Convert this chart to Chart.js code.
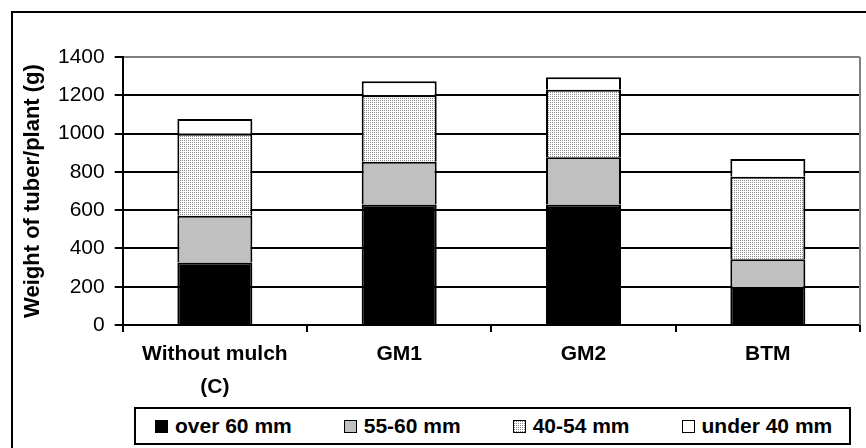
<!DOCTYPE html>
<html>
<head>
<meta charset="utf-8">
<script src="https://cdn.jsdelivr.net/npm/chart.js@4.4.1/dist/chart.umd.min.js"></script>
<style>
  html, body { margin: 0; padding: 0; background: #fff; }
  #wrap { position: relative; width: 866px; height: 448px; }
  #legend {
    position: absolute; left: 134px; top: 407px; width: 717px; height: 38px;
    box-sizing: border-box; border: 2px solid #000; background: #fff;
    display: flex; align-items: center; padding-left: 19px; gap: 52px;
    font: bold 21px "Liberation Sans", Arial, sans-serif; color: #000;
  }
  #legend .item { display: flex; align-items: center; white-space: nowrap; }
  #legend .sw { width: 11px; height: 11px; border: 1px solid #000; margin-right: 7px; }
</style>
</head>
<body>
<div id="wrap">
  <canvas id="chart" width="866" height="448"></canvas>
  <div id="legend"></div>
</div>
<script>
const categories  = [['Without mulch', '(C)'], 'GM1', 'GM2', 'BTM'];
const seriesNames = ['over 60 mm', '55-60 mm', '40-54 mm', 'under 40 mm'];
const over60      = [327, 630, 630, 199];
const mm55to60    = [244, 223, 246, 144];
const mm40to54    = [428, 347, 353, 432];
const under40     = [77, 73, 65, 92];
const yMax  = 1400;
const yStep = 200;

// light stipple fill like the old Excel pattern
function dotCanvas() {
  const c = document.createElement('canvas');
  c.width = 2; c.height = 2;
  const g = c.getContext('2d');
  g.fillStyle = '#fff';
  g.fillRect(0, 0, 2, 2);
  g.fillStyle = '#8a8a8a';
  g.fillRect(0, 0, 1, 1);
  return c;
}
const dots = dotCanvas();
const ctx = document.getElementById('chart');
const dotFill = ctx.getContext('2d').createPattern(dots, 'repeat');

const fills  = ['#000000', '#c0c0c0', dotFill, '#ffffff'];
const swatch = ['#000000', '#c0c0c0', `url(${dots.toDataURL()})`, '#ffffff'];
const values = [over60, mm55to60, mm40to54, under40];

const frame = {
  id: 'frame',
  beforeDraw(chart) {
    const c = chart.ctx;
    c.save();
    c.fillStyle = '#fff';
    c.fillRect(0, 0, chart.width, chart.height);
    c.restore();
  },
  afterDraw(chart) {
    const c = chart.ctx;
    const a = chart.chartArea;
    c.save();
    c.strokeStyle = '#808080';
    c.lineWidth = 2;
    c.beginPath();
    c.moveTo(a.right, a.top);
    c.lineTo(a.right, a.bottom);
    c.stroke();
    c.strokeStyle = '#000';
    c.lineWidth = 2;
    c.beginPath();
    c.moveTo(12, chart.height);
    c.lineTo(12, 12);
    c.lineTo(chart.width, 12);
    c.stroke();
    c.restore();
  }
};

const chart = new Chart(ctx, {
  type: 'bar',
  data: {
    labels: categories,
    datasets: seriesNames.map((name, i) => ({
      label: name,
      data: values[i],
      backgroundColor: fills[i],
      borderColor: '#000',
      borderWidth: 2,
      barPercentage: 1,
      categoryPercentage: 0.407,
    })),
  },
  options: {
    responsive: false,
    devicePixelRatio: 1,
    animation: false,
    layout: { padding: { left: 20, right: 6, top: 57, bottom: 43 } },
    scales: {
      x: {
        stacked: true,
        grid: { offset: true, drawOnChartArea: false, color: '#000', lineWidth: 2, tickLength: 7 },
        border: { color: '#000', width: 2 },
        ticks: {
          color: '#000', padding: 6, maxRotation: 0, autoSkip: false,
          font: { family: '"Liberation Sans", Arial, sans-serif', size: 21, weight: 'bold', lineHeight: 1.57 },
        },
        afterFit: s => { s.height = 80; },
      },
      y: {
        stacked: true,
        min: 0,
        max: yMax,
        grid: {
          color: c => (c.tick && c.tick.value === yMax ? '#808080' : '#000'),
          tickColor: '#000',
          lineWidth: 2,
          tickLength: 8,
        },
        border: { color: '#000', width: 2 },
        ticks: {
          stepSize: yStep, color: '#000', padding: 10,
          callback: v => String(v),
          font: { family: '"Liberation Sans", Arial, sans-serif', size: 21 },
        },
        title: {
          display: true,
          text: 'Weight of tuber/plant (g)',
          color: '#000',
          padding: { top: 0, bottom: 0 },
          font: { family: '"Liberation Sans", Arial, sans-serif', size: 22, weight: 'bold' },
        },
        afterFit: s => { s.width = 102.7; },
      },
    },
    plugins: {
      legend: { display: false },
      tooltip: { enabled: false },
    },
  },
  plugins: [frame],
});

// html legend built from the datasets
const legend = document.getElementById('legend');
chart.data.datasets.forEach((ds, i) => {
  const item = document.createElement('div');
  item.className = 'item';
  const sw = document.createElement('span');
  sw.className = 'sw';
  sw.style.background = swatch[i];
  item.appendChild(sw);
  item.appendChild(document.createTextNode(ds.label));
  legend.appendChild(item);
});
</script>
</body>
</html>
